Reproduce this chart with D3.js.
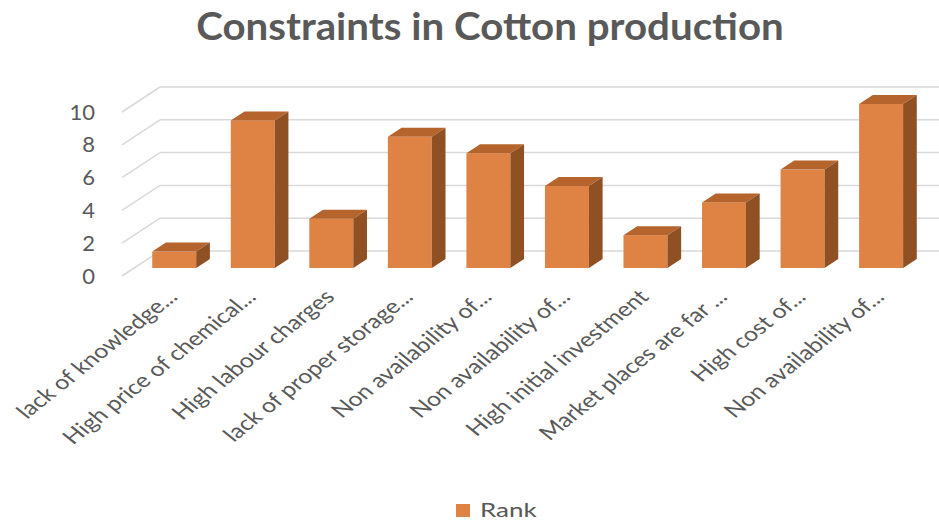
<html>
<head>
<script src="https://cdn.jsdelivr.net/npm/d3@7"></script>
<style>
  body { margin: 0; background: #fff; }
  svg { font-family: Lato, "Open Sans", sans-serif; }
</style>
</head>
<body>
<svg id="chart"></svg>
<script>
// data
const categories = [
  "lack of knowledge...",
  "High price of chemical...",
  "High labour charges",
  "lack of proper storage...",
  "Non availability of...",
  "Non availability of...",
  "High initial investment",
  "Market places are far ...",
  "High cost of...",
  "Non availability of..."
]
const ranks = [1, 9, 3, 8, 7, 5, 2, 4, 6, 10]
const yTicks = [0, 2, 4, 6, 8, 10]
const seriesName = "Rank"

const WIDTH = 939
const HEIGHT = 520
const TEXT_COLOR = "#595959"
const GRID_COLOR = "#d9d9d9"
const FRONT_COLOR = "#de8344"
const TOP_COLOR = "#b5642d"
const SIDE_COLOR = "#8f5023"
const STRETCH = 1.25   // the original picture is stretched sideways

// 3d depth of the plot box (front plane -> back wall)
const DEPTH = {x: 38, y: -25}
const BAR_FRONT = 0.32, BAR_BACK = 0.68

const svg = d3.select("#chart").attr("width", WIDTH).attr("height", HEIGHT)

// scales work in the front plane
const x = d3.scaleBand()
  .domain(d3.range(categories.length))
  .range([122, 909])
  .paddingInner(0.44)
  .paddingOuter(0.23)

const y = d3.scaleLinear()
  .domain([0, 10])
  .range([276, 112])

// title
svg.append("text")
  .attr("transform", "translate(490,40) scale(1.06,1)")
  .attr("text-anchor", "middle")
  .attr("font-size", 38)
  .attr("font-weight", "bold")
  .attr("fill", TEXT_COLOR)
  .text("Constraints in Cotton production")

//-------- walls / gridlines --------
const grid = svg.append("g")
  .attr("stroke", GRID_COLOR)
  .attr("stroke-width", 1.5)
  .attr("fill", "none")

const x0 = x.range()[0]
grid.selectAll(".side").data(yTicks).enter().append("line")
  .attr("x1", x0).attr("y1", d => y(d))
  .attr("x2", x0 + DEPTH.x).attr("y2", d => y(d) + DEPTH.y)

grid.selectAll(".back").data(yTicks).enter().append("line")
  .attr("x1", x0 + DEPTH.x).attr("y1", d => y(d) + DEPTH.y)
  .attr("x2", WIDTH).attr("y2", d => y(d) + DEPTH.y)

// y axis
const yAxis = d3.axisLeft(y).tickValues(yTicks).tickSize(0).tickPadding(3)
const yg = svg.append("g").attr("transform", "translate(98,0)").call(yAxis)
yg.select(".domain").remove()
yg.selectAll("text")
  .attr("font-size", 22)
  .attr("font-family", "Lato, sans-serif")
  .attr("fill", TEXT_COLOR)

//-------- bars --------
const fdx = DEPTH.x * BAR_FRONT, fdy = DEPTH.y * BAR_FRONT
const ddx = DEPTH.x * (BAR_BACK - BAR_FRONT), ddy = DEPTH.y * (BAR_BACK - BAR_FRONT)
const bw = x.bandwidth()

const bars = svg.append("g").selectAll("g")
  .data(ranks.map((v, i) => ({i: i, v: v})))
  .enter().append("g")

bars.append("rect")
  .attr("x", d => x(d.i) + fdx)
  .attr("y", d => y(d.v) + fdy)
  .attr("width", bw)
  .attr("height", d => y(0) - y(d.v))
  .attr("fill", FRONT_COLOR)

bars.append("polygon")
  .attr("points", d => {
    const xl = x(d.i) + fdx, xr = xl + bw, yt = y(d.v) + fdy
    return [[xl, yt], [xr, yt], [xr + ddx, yt + ddy], [xl + ddx, yt + ddy]].join(" ")
  })
  .attr("fill", TOP_COLOR)

bars.append("polygon")
  .attr("points", d => {
    const xr = x(d.i) + fdx + bw, yt = y(d.v) + fdy, yb = y(0) + fdy
    return [[xr, yt], [xr + ddx, yt + ddy], [xr + ddx, yb + ddy], [xr, yb]].join(" ")
  })
  .attr("fill", SIDE_COLOR)

//-------- category labels --------
svg.append("g").selectAll("text")
  .data(categories)
  .enter().append("text")
  .attr("transform", (d, i) => `translate(${x(i) + bw / 2 + 8},${291}) scale(${STRETCH},1) rotate(-45)`)
  .attr("text-anchor", "end")
  .attr("dy", "0.5em")
  .attr("font-size", 20)
  .attr("fill", TEXT_COLOR)
  .text(d => d)

//-------- legend --------
const legend = svg.append("g").attr("transform", "translate(456,504)")
legend.append("rect").attr("width", 14).attr("height", 13).attr("fill", FRONT_COLOR)
legend.append("text")
  .attr("transform", `translate(24,13) scale(1.3,1)`)
  .attr("font-size", 20)
  .attr("fill", TEXT_COLOR)
  .text(seriesName)
</script>
</body>
</html>
